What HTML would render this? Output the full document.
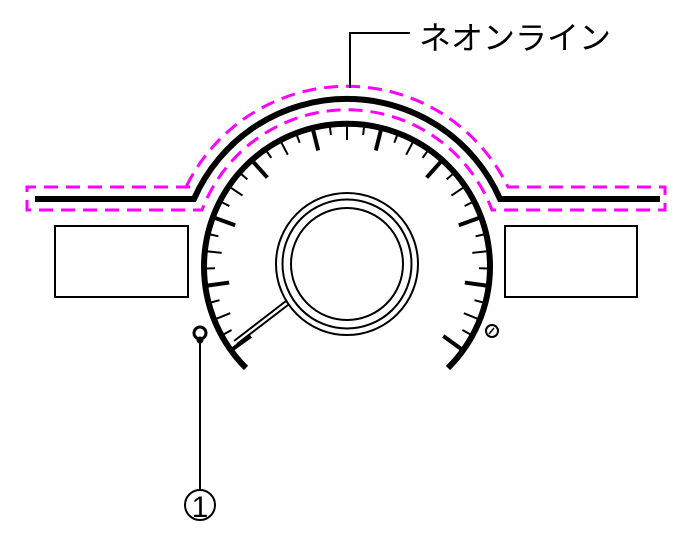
<!DOCTYPE html><html><head><style>body{margin:0;background:#fff}svg{display:block}</style></head><body>
<svg width="686" height="556" viewBox="0 0 686 556" xmlns="http://www.w3.org/2000/svg">
<g fill="none" stroke="#ff00ff" stroke-width="3" stroke-dasharray="14 8">
<path d="M190 187 H27 V210 H202 A155 155 0 0 1 492 210 H665 V187 H508 A179 179 0 0 0 186 187"/>
</g>
<path d="M35 199 H194 A167 167 0 0 1 500 199 H660" fill="none" stroke="#000" stroke-width="6"/>
<path d="M246 368 A143 143 0 1 1 448 368" fill="none" stroke="#000" stroke-width="6"/>
<g stroke="#000" id="ticks"></g>
<circle cx="347" cy="264" r="71" fill="none" stroke="#000" stroke-width="2"/>
<circle cx="347" cy="264" r="64.5" fill="none" stroke="#000" stroke-width="2"/>
<circle cx="347" cy="264" r="56" fill="none" stroke="#000" stroke-width="2"/>
<path d="M237 344 L288 305 M234 341 L286 301" stroke="#000" stroke-width="2"/>
<rect x="55" y="226" width="133" height="71" fill="none" stroke="#000" stroke-width="2"/>
<rect x="505" y="226" width="132" height="71" fill="none" stroke="#000" stroke-width="2"/>
<circle cx="200" cy="333" r="6" fill="none" stroke="#000" stroke-width="3"/>
<circle cx="200" cy="340" r="3.5" fill="#000"/>
<line x1="200" y1="340" x2="200" y2="490" stroke="#000" stroke-width="2"/>
<circle cx="200" cy="505" r="15" fill="none" stroke="#000" stroke-width="2"/>
<text x="200" y="517" font-family="Liberation Sans, sans-serif" font-size="30" text-anchor="middle">1</text>
<circle cx="492" cy="331" r="6" fill="none" stroke="#000" stroke-width="2"/>
<path d="M489 334 L494 328" stroke="#000" stroke-width="1.5"/>
<path d="M350 88 V33 H410" fill="none" stroke="#000" stroke-width="2"/>
<text x="419" y="49" font-family="Liberation Sans, 'Noto Sans CJK JP', sans-serif" font-size="32">ネオンライン</text>
</svg>
<script>
var g=document.getElementById('ticks'),cx=347,cy=266,r=141,s='';
for(var k=-18;k<=18;k++){var a=(90+7*k)*Math.PI/180;var m=((k%4)+4)%4;var L,w;
if(m==2){L=22;w=4}else if(m==0){L=15;w=2}else{L=9;w=2}
var x1=cx+r*Math.cos(a),y1=cy-r*Math.sin(a),x2=cx+(r-L)*Math.cos(a),y2=cy-(r-L)*Math.sin(a);
s+='<line x1="'+x1+'" y1="'+y1+'" x2="'+x2+'" y2="'+y2+'" stroke-width="'+w+'"/>';}
g.innerHTML=s;
</script>
</body></html>
